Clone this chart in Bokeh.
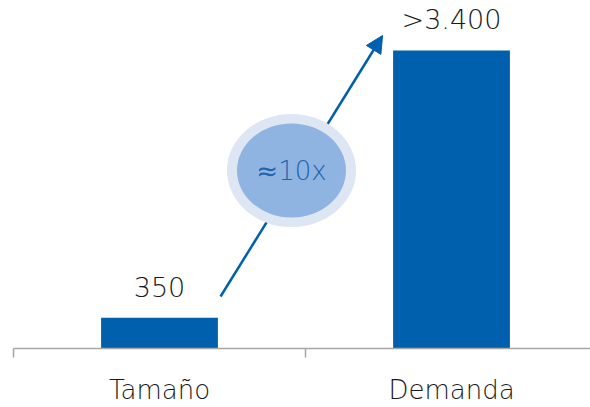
from bokeh.plotting import figure
from bokeh.models import Range1d, FixedTicker, Arrow, NormalHead, ColumnDataSource
from bokeh.core.properties import value
from bokeh.embed import file_html
from bokeh.resources import INLINE

categories = ["Tamaño", "Demanda"]
values = [350, 3400]
value_labels = ["350", ">3.400"]
ratio_label = "≈10x"

xpos = [0.5, 1.5]
FONT = "DejaVu Sans Light, DejaVu Sans"

p = figure(width=590, height=407, output_backend="svg", toolbar_location=None,
           x_range=Range1d(0, 1.976), y_range=Range1d(0, 3970),
           y_axis_location=None, min_border_left=13, min_border_right=0,
           min_border_top=0, min_border_bottom=59)
p.outline_line_color = None
p.xgrid.visible = False
p.ygrid.visible = False
p.background_fill_color = "white"
p.border_fill_color = "white"

src = ColumnDataSource(dict(x=xpos, top=values, lab=value_labels))
p.vbar(x="x", top="top", width=0.4, source=src, color="#0060ad", line_color=None)
p.text(x="x", y="top", text="lab", source=src, text_align="center",
       text_baseline="alphabetic", y_offset=-31, text_font=value(FONT),
       text_font_size="27px", text_color="#1a1a1a")

ax = p.xaxis[0]
ax.ticker = FixedTicker(ticks=xpos, minor_ticks=[0, 1, 2])
ax.major_label_overrides = {x: c for x, c in zip(xpos, categories)}
ax.major_tick_out = 0
ax.major_tick_in = 0
ax.minor_tick_out = 9
ax.minor_tick_in = 0
ax.minor_tick_line_color = "#a6a6a6"
ax.minor_tick_line_width = 1.5
ax.axis_line_color = "#a6a6a6"
ax.axis_line_width = 1.5
ax.major_label_text_font = FONT
ax.major_label_text_font_size = "26px"
ax.major_label_text_color = "#1a1a1a"
ax.major_label_standoff = 17

arr = Arrow(x_start=0.709, y_start=593, x_end=1.264, y_end=3571,
            line_color="#0060ad", line_width=2.5,
            end=NormalHead(size=17, fill_color="#0060ad", line_color="#0060ad"))
arr.level = "underlay"
p.add_layout(arr)

cx, cy = 0.952, 2031
p.ellipse(x=[cx], y=[cy], width=129, height=113, width_units="screen",
          height_units="screen", fill_color="#dde6f2", line_color=None)
p.ellipse(x=[cx], y=[cy], width=109, height=94, width_units="screen",
          height_units="screen", fill_color="#8fb4e2", line_color=None)
p.text(x=[cx], y=[cy], text=[ratio_label], text_align="center",
       text_baseline="middle", text_font=value(FONT), text_font_size="26px",
       text_color="#1e63ad", y_offset=1)

open("out.html", "w").write(file_html(p, INLINE))
